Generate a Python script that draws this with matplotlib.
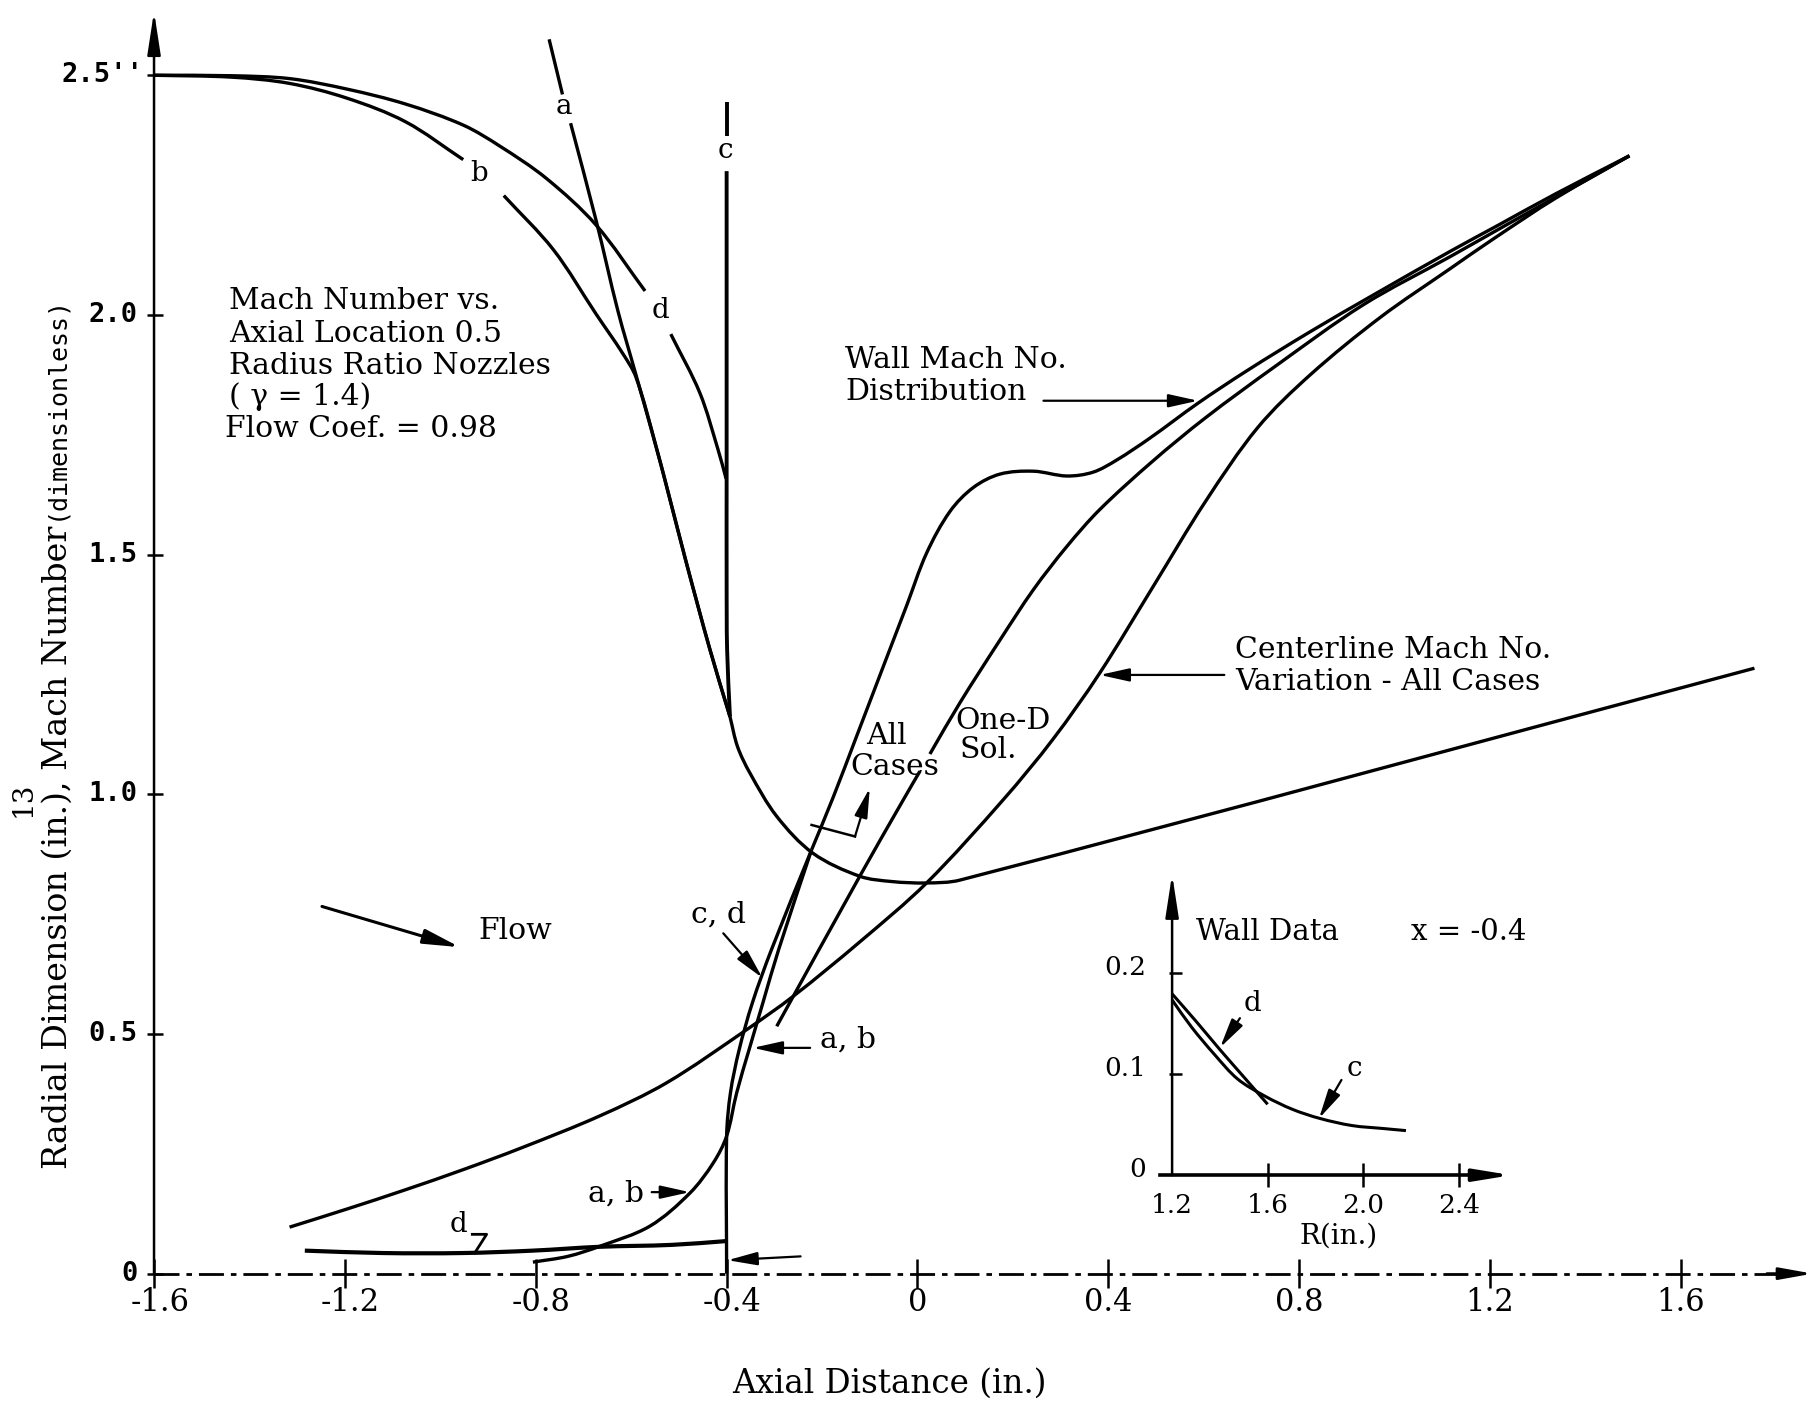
import matplotlib
matplotlib.use("Agg")
import matplotlib.pyplot as plt
import numpy as np
from matplotlib.path import Path
from matplotlib.patches import PathPatch

SERIF = "DejaVu Serif"
MONO = "DejaVu Sans Mono"
FS = 21.5
LW = 2.4

# ---------------- axes ticks ----------------
x_ticks = [-1.6, -1.2, -0.8, -0.4, 0.0, 0.4, 0.8, 1.2, 1.6]
x_tick_labels = ["-1.6", "-1.2", "-0.8", "-0.4", "0", "0.4", "0.8", "1.2", "1.6"]
y_ticks = [0.0, 0.5, 1.0, 1.5, 2.0, 2.5]
y_tick_labels = ["0", "0.5", "1.0", "1.5", "2.0", "2.5''"]

# ---------------- wall contours (radius, in.) ----------------
wall_d_x1 = [-1.6, -1.437, -1.316, -1.195, -1.073, -0.952, -0.875, -0.778, -0.674, -0.571]
wall_d_y1 = [2.500, 2.499, 2.493, 2.471, 2.440, 2.396, 2.352, 2.285, 2.188, 2.050]
wall_d_x2 = [-0.517, -0.456, -0.418, -0.401]
wall_d_y2 = [1.960, 1.837, 1.719, 1.658]

wall_b_x1 = [-1.6, -1.437, -1.316, -1.195, -1.073, -0.952]
wall_b_y1 = [2.500, 2.496, 2.483, 2.452, 2.403, 2.324]
wall_b_x2 = [-0.867, -0.763, -0.673, -0.618, -0.590, -0.548, -0.486, -0.435, -0.393]
wall_b_y2 = [2.249, 2.136, 2.001, 1.920, 1.870, 1.726, 1.489, 1.302, 1.162]

wall_a_x1 = [-0.772, -0.744]
wall_a_y1 = [2.575, 2.460]
wall_a_x2 = [-0.727, -0.673, -0.628, -0.590, -0.538, -0.486, -0.435, -0.393]
wall_a_y2 = [2.400, 2.195, 2.009, 1.875, 1.689, 1.489, 1.302, 1.162]

wall_c_x1 = [-0.400, -0.400]
wall_c_y1 = [2.445, 2.374]
wall_c_x2 = [-0.400, -0.400, -0.400, -0.400, -0.399, -0.393]
wall_c_y2 = [2.300, 1.932, 1.657, 1.449, 1.302, 1.162]

# common throat / downstream wall
throat_x = [-0.393, -0.377, -0.351, -0.295, -0.219, -0.121, -0.054, 0.019, 0.089, 1.754]
throat_y = [1.162, 1.099, 1.044, 0.954, 0.877, 0.829, 0.818, 0.815, 0.821, 1.263]

# ---------------- Mach number curves ----------------
mach_ab_x = [-0.806, -0.733, -0.666, -0.561, -0.477, -0.428, -0.400, -0.379, -0.353, -0.324, -0.291, -0.222]
mach_ab_y = [0.024, 0.036, 0.057, 0.099, 0.168, 0.231, 0.287, 0.377, 0.467, 0.565, 0.676, 0.884]
mach_cd_x = [-0.400, -0.400, -0.392, -0.374, -0.346, -0.306, -0.222]
mach_cd_y = [0.000, 0.287, 0.377, 0.466, 0.565, 0.676, 0.884]
mach_wall_x = [-0.222, -0.177, -0.128, -0.065, -0.023, 0.019, 0.068, 0.117, 0.173, 0.243, 0.313,
               0.368, 0.417, 0.487, 0.588, 0.691, 0.823, 0.956, 1.117, 1.213, 1.338, 1.492]
mach_wall_y = [0.884, 0.993, 1.120, 1.284, 1.393, 1.503, 1.590, 1.640, 1.668, 1.674, 1.664,
               1.672, 1.697, 1.743, 1.816, 1.884, 1.965, 2.042, 2.133, 2.185, 2.253, 2.332]
mach_d_x = [-1.284, -1.122, -0.952, -0.806, -0.666, -0.515, -0.400]
mach_d_y = [0.048, 0.043, 0.043, 0.048, 0.056, 0.060, 0.068]

oned_x1 = [-0.295, -0.121, -0.030, 0.005]
oned_y1 = [0.516, 0.829, 0.988, 1.048]
oned_x2 = [0.026, 0.089, 0.173, 0.243, 0.313, 0.382, 0.493, 0.603, 0.750, 0.934, 1.117, 1.213, 1.338, 1.492]
oned_y2 = [1.084, 1.191, 1.322, 1.427, 1.517, 1.594, 1.695, 1.785, 1.893, 2.021, 2.122, 2.176, 2.246, 2.332]

center_x = [-1.316, -1.195, -1.073, -0.952, -0.831, -0.666, -0.526, -0.358, -0.260, -0.121, 0.019,
            0.180, 0.284, 0.382, 0.493, 0.603, 0.713, 0.823, 0.970, 1.117, 1.206, 1.338, 1.492]
center_y = [0.097, 0.135, 0.175, 0.217, 0.262, 0.329, 0.398, 0.509, 0.579, 0.692, 0.815,
            0.989, 1.115, 1.253, 1.432, 1.610, 1.765, 1.875, 1.995, 2.097, 2.158, 2.244, 2.332]

# ---------------- inset: wall data at x = -0.4 ----------------
in_x_ticks = [1.6, 2.0, 2.4]
in_x_tick_labels = ["1.6", "2.0", "2.4"]
in_y_ticks = [0.1, 0.2]
in_y_tick_labels = ["0.1", "0.2"]
in_c_x = [1.2, 1.282, 1.378, 1.474, 1.589, 1.704, 1.819, 1.953, 2.087, 2.179]
in_c_y = [0.173, 0.146, 0.119, 0.095, 0.078, 0.065, 0.056, 0.049, 0.046, 0.044]
in_d_x = [1.2, 1.3, 1.4, 1.5, 1.6]
in_d_y = [0.179, 0.152, 0.124, 0.097, 0.070]

# ---------------- figure ----------------
fig = plt.figure(figsize=(18.16, 14.01), dpi=100)
fig.patch.set_facecolor("white")
ax = fig.add_axes([0, 0, 1, 1])
ax.set_xlim(-1.9228, 1.8830)
ax.set_ylim(-0.2657, 2.6570)
ax.axis("off")


def smooth_path(xs, ys, sx=1.0, sy=1.0):
    """Bezier path through the read points (chord-length Hermite tangents)."""
    P = np.column_stack([np.asarray(xs, float) * sx, np.asarray(ys, float) * sy])
    n = len(P)
    if n < 3:
        verts = P.copy()
        codes = [Path.MOVETO] + [Path.LINETO] * (n - 1)
    else:
        d = np.linalg.norm(np.diff(P, axis=0), axis=1)
        T = np.zeros_like(P)
        T[0] = (P[1] - P[0]) / d[0]
        T[-1] = (P[-1] - P[-2]) / d[-1]
        for i in range(1, n - 1):
            T[i] = (P[i + 1] - P[i - 1]) / (d[i - 1] + d[i])
        verts = [P[0]]
        codes = [Path.MOVETO]
        for i in range(n - 1):
            verts += [P[i] + T[i] * d[i] / 3, P[i + 1] - T[i + 1] * d[i] / 3, P[i + 1]]
            codes += [Path.CURVE4] * 3
        verts = np.array(verts)
    verts[:, 0] /= sx
    verts[:, 1] /= sy
    return Path(verts, codes)


def curve(a, xs, ys, lw=LW, sx=1.0, sy=1.0):
    a.add_patch(PathPatch(smooth_path(xs, ys, sx, sy), fill=False, edgecolor="black",
                          lw=lw, capstyle="butt", joinstyle="round"))


def arrow(a, tail, tip, lw=1.6, hl=0.9, hw=0.2, ms=20):
    a.annotate("", xy=tip, xytext=tail,
               arrowprops=dict(arrowstyle="-|>,head_length=%g,head_width=%g" % (hl, hw),
                               lw=lw, color="black", shrinkA=0, shrinkB=0,
                               mutation_scale=ms))


def txt(a, x, y, s, size=FS, ha="left", va="center", family=SERIF, **kw):
    a.text(x, y, s, fontsize=size, ha=ha, va=va, family=family, color="black", **kw)


# axes
ax.plot([x_ticks[0], 1.80], [0, 0], color="black", lw=2.0, ls=(0, (9, 2.5, 2, 2.5)))
arrow(ax, (1.78, 0), (1.876, 0), lw=2.0, hl=1.0, hw=0.18)
arrow(ax, (x_ticks[0], 0.0), (x_ticks[0], 2.633), lw=1.8, hl=1.3, hw=0.2)
ax.vlines(x_ticks, -0.03, 0.03, color="black", lw=1.8)
ax.hlines(y_ticks, x_ticks[0] - 0.015, x_ticks[0] + 0.018, color="black", lw=1.8)
for xv, lab in zip(x_ticks, x_tick_labels):
    txt(ax, xv + (0.012 if lab.startswith("-") else 0.0), -0.060, lab, size=22, ha="center")
for yv, lab in zip(y_ticks, y_tick_labels):
    txt(ax, -1.622 if lab.endswith("''") else -1.634, yv, lab, size=19.5, ha="right",
        family=MONO, fontweight="bold")

txt(ax, -0.059, -0.229, "Axial Distance (in.)", size=23.5, ha="center")
txt(ax, -1.801, 0.889, "Radial Dimension (in.), Mach Number", size=24, ha="center", rotation=90)
txt(ax, -1.806, 1.807, "(dimensionless)", size=18, ha="center", rotation=90, family=MONO)
txt(ax, -1.874, 0.990, "13", size=20, ha="center", rotation=90)

# wall contours
curve(ax, wall_d_x1, wall_d_y1)
curve(ax, wall_d_x2, wall_d_y2)
curve(ax, wall_b_x1, wall_b_y1)
curve(ax, wall_b_x2, wall_b_y2)
curve(ax, wall_a_x1, wall_a_y1)
curve(ax, wall_a_x2, wall_a_y2)
curve(ax, wall_c_x1, wall_c_y1, lw=2.8)
curve(ax, wall_c_x2, wall_c_y2, lw=2.8)
curve(ax, throat_x, throat_y)

# Mach curves
curve(ax, mach_ab_x, mach_ab_y)
curve(ax, mach_cd_x, mach_cd_y)
curve(ax, mach_wall_x, mach_wall_y)
curve(ax, mach_d_x, mach_d_y, lw=3.0)
curve(ax, oned_x1, oned_y1)
curve(ax, oned_x2, oned_y2)
curve(ax, center_x, center_y)

# curve labels
txt(ax, -0.741, 2.435, "a", size=20, ha="center")
txt(ax, -0.918, 2.295, "b", size=20, ha="center")
txt(ax, -0.403, 2.343, "c", size=20, ha="center")
txt(ax, -0.539, 2.010, "d", size=20, ha="center")
txt(ax, -0.962, 0.103, "d", size=20, ha="center")
ax.plot([-0.933, -0.903, -0.928], [0.082, 0.082, 0.043], color="black", lw=2.0)

# title block
title_lines = ["Mach Number vs.", "Axial Location 0.5", "Radius Ratio Nozzles", "( \u03b3 = 1.4)", "Flow Coef. = 0.98"]
title_y = [2.029, 1.961, 1.894, 1.829, 1.761]
for s, yv in zip(title_lines, title_y):
    txt(ax, -1.452 if s.startswith("Flow") else -1.442, yv, s)

# annotations
txt(ax, -0.152, 1.905, "Wall Mach No.")
txt(ax, -0.152, 1.840, "Distribution")
arrow(ax, (0.264, 1.821), (0.588, 1.821))

txt(ax, 0.665, 1.302, "Centerline Mach No.")
txt(ax, 0.665, 1.234, "Variation - All Cases")
arrow(ax, (0.643, 1.249), (0.382, 1.249))

txt(ax, -0.107, 1.121, "All")
txt(ax, -0.141, 1.056, "Cases")
ax.plot([-0.222, -0.131], [0.936, 0.912], color="black", lw=1.8)
arrow(ax, (-0.131, 0.912), (-0.100, 1.013))

txt(ax, 0.079, 1.152, "One-D")
txt(ax, 0.089, 1.093, "Sol.")

txt(ax, -0.418, 0.749, "c, d", ha="center")
arrow(ax, (-0.407, 0.710), (-0.325, 0.617))
txt(ax, -0.204, 0.488, "a, b")
arrow(ax, (-0.225, 0.471), (-0.345, 0.471))
txt(ax, -0.573, 0.168, "a, b", ha="right")
arrow(ax, (-0.557, 0.170), (-0.477, 0.170))
arrow(ax, (-0.245, 0.036), (-0.398, 0.028))

txt(ax, -0.843, 0.715, "Flow", ha="center")
arrow(ax, (-1.248, 0.766), (-0.959, 0.681), lw=2.2, hl=1.1, hw=0.22)

# ---------------- inset ----------------
axi = fig.add_axes([0.6257, 0.0961, 0.2236, 0.3037])
axi.set_xlim(1.05, 2.75)
axi.set_ylim(-0.09, 0.33)
axi.axis("off")
axi.patch.set_alpha(0)
arrow(axi, (1.2, 0.0), (1.2, 0.297), lw=1.8, hl=1.3, hw=0.2)
axi.plot([1.15, 2.56], [0, 0], color="black", lw=2.6)
arrow(axi, (2.5, 0.0), (2.62, 0.0), lw=2.6, hl=1.1, hw=0.18)
axi.vlines(in_x_ticks, -0.012, 0.012, color="black", lw=1.8)
axi.hlines(in_y_ticks, 1.185, 1.24, color="black", lw=1.8)
for xv, lab in zip(in_x_ticks, in_x_tick_labels):
    txt(axi, xv, -0.03, lab, size=19, ha="center")
txt(axi, 1.2, -0.03, "1.2", size=19, ha="center")
for yv, lab in zip(in_y_ticks, in_y_tick_labels):
    txt(axi, 1.091, yv + 0.005, lab, size=19, ha="right")
txt(axi, 1.091, 0.006, "0", size=19, ha="right")
txt(axi, 1.896, -0.060, "R(in.)", size=20, ha="center")
txt(axi, 1.302, 0.240, "Wall Data", size=21)
txt(axi, 2.202, 0.240, "x = -0.4", size=21)
# inset pixel scales differ: x 206 px/unit, y 875 px/unit
curve(axi, in_c_x, in_c_y, lw=2.2, sx=206.0, sy=875.0)
curve(axi, in_d_x, in_d_y, lw=2.2, sx=206.0, sy=875.0)
txt(axi, 1.536, 0.169, "d", size=20, ha="center")
arrow(axi, (1.484, 0.155), (1.401, 0.126), lw=1.6, hl=0.9, hw=0.2)
txt(axi, 1.963, 0.105, "c", size=20, ha="center")
arrow(axi, (1.909, 0.094), (1.815, 0.056), lw=1.6, hl=0.9, hw=0.2)

fig.savefig("out.png", dpi=100, facecolor="white")
